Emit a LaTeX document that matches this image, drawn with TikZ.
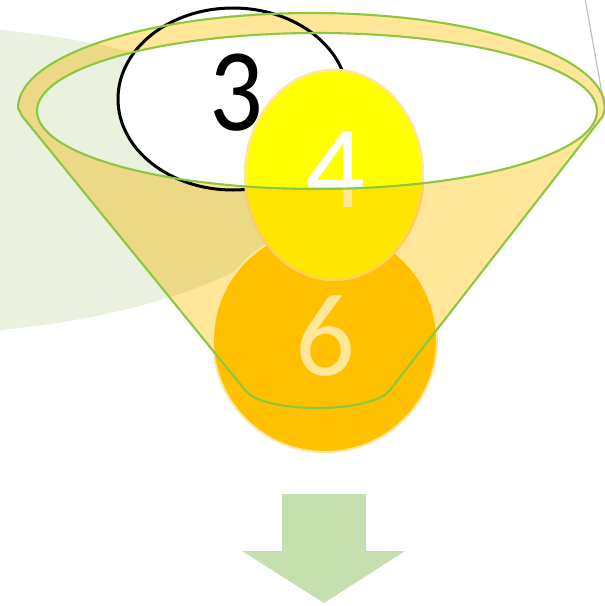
\documentclass[tikz,border=0pt]{standalone}
\usepackage{fontspec}
\setmainfont{Carlito}
\usetikzlibrary{shapes.geometric}
\definecolor{bggreen}{HTML}{EBF1DF}
\definecolor{funneltan}{HTML}{FFE699}
\definecolor{funnelline}{HTML}{8DC63F}
\definecolor{ballyellow}{HTML}{FFFF00}
\definecolor{ballorange}{HTML}{FFC000}
\definecolor{ballrim}{HTML}{FFE699}
\definecolor{arrowgreen}{HTML}{C5DFAE}
\definecolor{thingray}{HTML}{BFBFBF}
\tikzset{
  bignum/.style={font=\fontsize{118}{118}\selectfont, inner sep=0pt},
  funnelfill/.style={fill=funneltan, even odd rule},
  funneldraw/.style={draw=funnelline, line width=2.1pt, line join=round},
}
\newcommand{\funnelbody}{(605,108) arc[start angle=0, end angle=-180, x radius=293.5, y radius=95]
  -- (22,116) -- (245,390) .. controls (262,414) and (372,414) .. (390,390) -- (603,116) -- cycle}
\newcommand{\funnelmouth}{(317,111) ellipse [x radius=280, y radius=78]}
\begin{document}
\begin{tikzpicture}[x=1pt,y=-1pt]
\useasboundingbox (0,0) rectangle (605,606);
\clip (0,0) rectangle (605,606);
% background ellipse
\fill[bggreen] (-106,180) ellipse [x radius=421, y radius=155];
% thin gray line
\draw[thingray, line width=1.2pt] (585,-2) coordinate (g1) -- (606,116) coordinate (g2);
% circle 3
\node[ellipse, draw=black, line width=3pt, fill=white, minimum width=230pt, minimum height=182pt, inner sep=0pt] (c3) at (233,99) {};
\node[bignum, text=black, xscale=0.9] (t3) at (236,93) {3};
% funnel fill
\begin{scope}[blend mode=multiply]
\fill[funnelfill] \funnelbody \funnelmouth;
\end{scope}
% ball 6
\node[ellipse, draw=ballrim, line width=2pt, fill=ballorange, minimum width=224pt, minimum height=224pt, inner sep=0pt] (c6) at (325,340) {};
\node[bignum, text=ballrim] (t6) at (325,336) {6};
% ball 4
\node[ellipse, draw=ballrim, line width=2.5pt, fill=ballyellow, minimum width=178pt, minimum height=210pt, inner sep=0pt] (c4) at (334,175) {};
\node[bignum, text=white] (t4) at (335,170) {4};
% tint of ball 4 by the funnel
\begin{scope}
\clip (334,175) ellipse [x radius=90.5, y radius=106.5];
\begin{scope}[blend mode=multiply]
\fill[funnelfill] \funnelbody \funnelmouth;
\end{scope}
\end{scope}
% funnel outlines
\draw[funneldraw] \funnelbody;
\draw[funneldraw] \funnelmouth;
% arrow
\fill[arrowgreen] (282,494) -- (366,494) -- (366,551) -- (405,551) -- (324,603) -- (242,551) -- (282,551) -- cycle;
\end{tikzpicture}
\end{document}
